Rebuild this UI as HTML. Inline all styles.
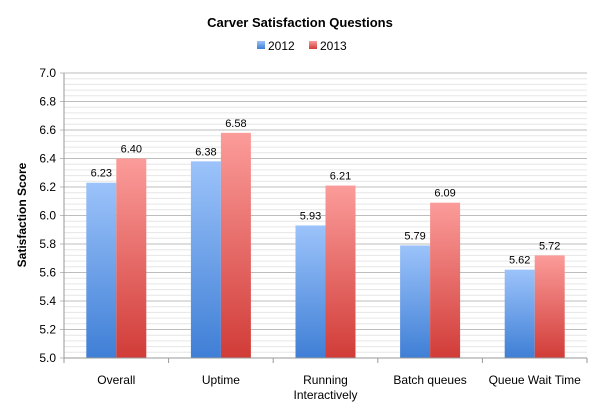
<!DOCTYPE html>
<html><head><meta charset="utf-8"><style>
body{margin:0;background:#fff;}
svg text{font-family:"Liberation Sans",sans-serif;}
</style></head><body>
<svg width="600" height="408">
<defs>
<linearGradient id="gb" x1="0" y1="0" x2="0" y2="1"><stop offset="0" stop-color="#9cc3fa"/><stop offset="1" stop-color="#3f7fd6"/></linearGradient>
<linearGradient id="gr" x1="0" y1="0" x2="0" y2="1"><stop offset="0" stop-color="#fb9c9a"/><stop offset="1" stop-color="#d13c38"/></linearGradient>
</defs>
<text x="300" y="27" text-anchor="middle" font-size="13" font-weight="bold">Carver Satisfaction Questions</text>
<g>
<rect x="257" y="41" width="8" height="8" fill="url(#gb)"/>
<text x="268" y="50" font-size="12">2012</text>
<rect x="309" y="41" width="8" height="8" fill="url(#gr)"/>
<text x="320" y="50" font-size="12">2013</text>
</g>
<text transform="translate(26,215) rotate(-90)" text-anchor="middle" font-size="12" font-weight="bold">Satisfaction Score</text>
<g id="grid"></g><g id="bars"></g><g id="axes"></g>
</svg>
<script>
const categories=["Overall","Uptime","Running|Interactively","Batch queues","Queue Wait Time"];
const s2012=[6.23,6.38,5.93,5.79,5.62];
const s2013=[6.40,6.58,6.21,6.09,5.72];
const yTicks=[5.0,5.2,5.4,5.6,5.8,6.0,6.2,6.4,6.6,6.8,7.0];
const yMin=5,yMax=7,plotTop=73,plotBot=358,plotLeft=64,plotRight=587;
const NS="http://www.w3.org/2000/svg";
function yScale(v){return plotBot-(v-yMin)/(yMax-yMin)*(plotBot-plotTop);}
const cw=(plotRight-plotLeft)/categories.length;
function mk(t,a,p){const e=document.createElementNS(NS,t);for(const k in a)e.setAttribute(k,a[k]);p.appendChild(e);return e;}
const grid=document.getElementById('grid'),bars=document.getElementById('bars'),axes=document.getElementById('axes');
for(let v=yMin;v<=yMax+1e-9;v+=0.04){const l=mk('line',{x1:plotLeft,x2:plotRight,y1:yScale(v),y2:yScale(v),stroke:'#e6e6e6','stroke-width':1},grid);

}
yTicks.forEach(v=>{const l=mk('line',{x1:plotLeft-4,x2:plotRight,y1:yScale(v),y2:yScale(v),stroke:'#bdbdbd','stroke-width':1},grid);


const t=mk('text',{x:plotLeft-8,y:yScale(v)+4,'text-anchor':'end','font-size':12},axes);t.textContent=v.toFixed(1);

});
mk('line',{x1:plotLeft,x2:plotLeft,y1:plotTop,y2:plotBot,stroke:'#999'},axes);
mk('line',{x1:plotLeft,x2:plotRight,y1:plotBot,y2:plotBot,stroke:'#999'},axes);
const bw=30;
categories.forEach((c,i)=>{
 const x0=plotLeft+i*cw;
 mk('line',{x1:x0,x2:x0,y1:plotBot,y2:plotBot+5,stroke:'#999'},axes);
 [[s2012,'url(#gb)','2012',0],[s2013,'url(#gr)','2013',1]].forEach(([arr,f,n,k])=>{
  const bx=x0+(cw-2*bw)/2+k*bw,v=arr[i];
  const r=mk('rect',{x:bx,y:yScale(v),width:bw,height:plotBot-yScale(v),fill:f},bars);
  
  
  const t=mk('text',{x:bx+bw/2,y:yScale(v)-6,'text-anchor':'middle','font-size':11},bars);t.textContent=v.toFixed(2);
  
  
 });
 const parts=c.split('|');
 parts.forEach((p,j)=>{const t=mk('text',{x:x0+cw/2,y:384+j*15,'text-anchor':'middle','font-size':12},axes);t.textContent=p;
 
 });
});
mk('line',{x1:plotRight,x2:plotRight,y1:plotBot,y2:plotBot+5,stroke:'#999'},axes);
</script>
</body></html>
